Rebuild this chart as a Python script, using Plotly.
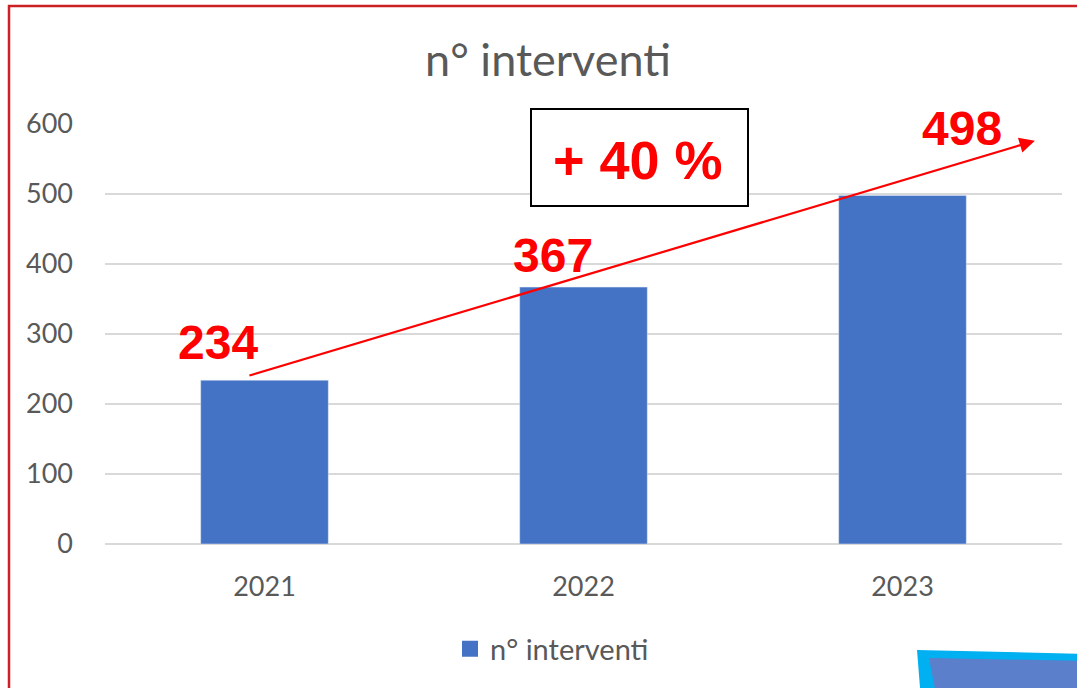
import plotly.graph_objects as go

# data
anni = ["2021", "2022", "2023"]
interventi = [234, 367, 498]
crescita = "+ 40 %"

W, H = 1077, 688
L, R, T, B = 105, 15, 124, 144


def px(x, y):
    # pixel position -> paper coords (for decorations only)
    return (x - L) / (W - L - R), (H - B - y) / (H - T - B)


pos = list(range(len(anni)))

fig = go.Figure()
fig.add_trace(go.Bar(
    x=pos, y=interventi, name="n° interventi",
    marker_color="#4472C4", width=0.4, showlegend=False,
))
# legend entry with a bigger square, like the original
fig.add_trace(go.Scatter(
    x=[None], y=[None], mode="markers", name="n° interventi",
    marker=dict(symbol="square", size=17, color="#4472C4"),
))

# red value labels
shifts = [(-47, 38), (-31, 32), (59, 67)]
for p, v, (dx, dy) in zip(pos, interventi, shifts):
    fig.add_annotation(x=p, y=v, text="<b>%d</b>" % v, showarrow=False,
                       xshift=dx, yshift=dy, xanchor="center", yanchor="middle",
                       font=dict(family="Liberation Sans", size=48, color="#FF0000"))

# trend arrow
fig.add_annotation(x=2.415, y=576, ax=-0.052, ay=240, xref="x", yref="y",
                   axref="x", ayref="y", text="", showarrow=True,
                   arrowhead=2, arrowsize=1.4, arrowwidth=2.2, arrowcolor="#FF0000")

# "+ 40 %" box
bx0, by0 = px(531, 206)
bx1, by1 = px(748, 109)
fig.add_shape(type="rect", xref="paper", yref="paper", x0=bx0, y0=by0, x1=bx1, y1=by1,
              line=dict(color="#000000", width=2), fillcolor="white")
fig.add_annotation(xref="paper", yref="paper", x=px(638, 0)[0], y=px(0, 160)[1],
                   xanchor="center", yanchor="middle",
                   text="<b>%s</b>" % crescita, showarrow=False,
                   font=dict(family="Liberation Sans", size=54, color="#FF0000"))

# red frame
fx0, fy1 = px(9, 6)
fx1, fy0 = px(1200, 800)
fig.add_shape(type="rect", xref="paper", yref="paper", x0=fx0, y0=fy0, x1=fx1, y1=fy1,
              line=dict(color="#CC2026", width=2.5), layer="below")

# decorative blue shape bottom right
def path(pts):
    s = []
    for i, (x, y) in enumerate(pts):
        a, b = px(x, y)
        s.append(("M" if i == 0 else "L") + " %f %f" % (a, b))
    return " ".join(s) + " Z"

fig.add_shape(type="path", xref="paper", yref="paper",
              path=path([(917, 650), (1090, 654), (1090, 700), (921, 700)]),
              fillcolor="#00B0F0", line_width=0)
fig.add_shape(type="path", xref="paper", yref="paper",
              path=path([(929, 658), (1090, 661), (1090, 700), (937, 700)]),
              fillcolor="#5B7FCB", line_width=0)

fig.update_layout(
    width=W, height=H,
    margin=dict(l=L, r=R, t=T, b=B, autoexpand=False),
    paper_bgcolor="white", plot_bgcolor="white",
    font=dict(family="Lato", color="#595959"),
    title=dict(text="n° interventi", x=(548 / W), xanchor="center",
               y=1 - 60 / H, yanchor="middle",
               font=dict(family="Lato", size=45, color="#595959")),
    showlegend=True,
    legend=dict(orientation="h", x=px(552, 0)[0], xanchor="center",
                y=px(0, 649)[1], yanchor="middle", itemsizing="trace",
                font=dict(size=29, color="#595959")),
)
fig.update_xaxes(range=[-0.5, len(anni) - 0.5], tickvals=pos, ticktext=anni,
                 showgrid=False, showline=False, zeroline=False, ticks="",
                 tickfont=dict(size=27, color="#595959"), ticklabelstandoff=24)
fig.update_yaxes(range=[0, 600], dtick=100, gridcolor="#D9D9D9", gridwidth=1.5,
                 zeroline=True, zerolinecolor="#D9D9D9", zerolinewidth=1.5,
                 tickfont=dict(size=27, color="#595959"), ticklabelstandoff=31)

fig.write_html("out.html", config={"displayModeBar": False},
               post_script="document.body.style.margin='0';")
